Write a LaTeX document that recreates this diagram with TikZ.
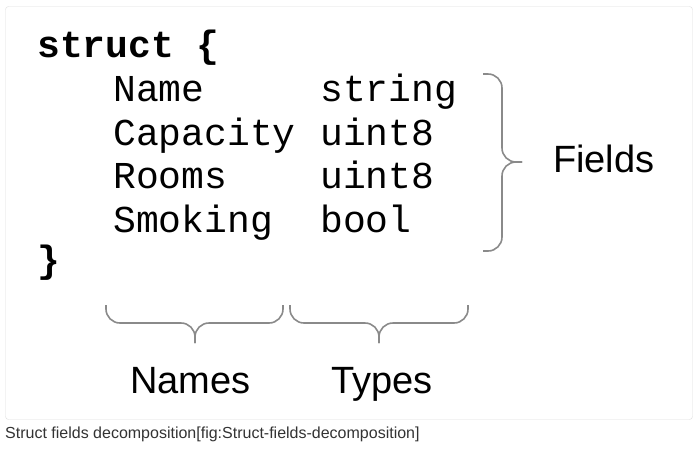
\documentclass[tikz,border=0pt]{standalone}
\usepackage{fontspec}
\setmainfont{Liberation Sans}
\setsansfont{Liberation Sans}
\setmonofont{Liberation Mono}
\usetikzlibrary{positioning}
\definecolor{frame}{HTML}{DCDCDC}
\definecolor{bracegray}{HTML}{8A8A8A}
\definecolor{ink}{HTML}{000000}
\definecolor{capink}{HTML}{333333}
\tikzset{fig/.style={x=1pt,y=-1pt,line join=round},
  code/.style={anchor=base west,inner sep=0pt,ink,font=\fontsize{38}{44}\ttfamily},
  codebf/.style={code,font=\fontsize{38}{44}\ttfamily\bfseries},
  lbl/.style={anchor=base west,inner sep=0pt,ink,font=\fontsize{38}{44}\sffamily},
  curly/.style={bracegray,line width=1.6pt,rounded corners=14pt}}

\begin{document}
\begin{tikzpicture}[fig]
  \useasboundingbox (0,0) rectangle (698,448);
  \draw[frame,rounded corners=3pt] (5.5,6.5) rectangle (692.5,419.5);
  % struct text
  \node[codebf] (open) at (37,57) {struct \{};
  \node[code] (nName) at (113,101) {Name};
  \node[code] (tName) at (320,101) {string};
  \node[code] (nCap) at (113,145) {Capacity};
  \node[code] (tCap) at (320,145) {uint8};
  \node[code] (nRooms) at (113,188) {Rooms};
  \node[code] (tRooms) at (320,188) {uint8};
  \node[code] (nSmoke) at (113,232) {Smoking};
  \node[code] (tSmoke) at (320,232) {bool};
  \node[codebf] (close) at (37,272) {\}};
  % braces
  \draw[curly] (483,74) -- (502,74) -- (502,162) -- (522,162);
  \draw[curly] (522,162) -- (502,162) -- (502,251) -- (483,251);
  \draw[curly] (106,305) -- (106,323) -- (195,323) -- (195,343);
  \draw[curly] (283,305) -- (283,323) -- (195,323) -- (195,343);
  \draw[curly] (290,305) -- (290,323) -- (379,323) -- (379,343);
  \draw[curly] (468,305) -- (468,323) -- (379,323) -- (379,343);
  % labels
  \node[lbl] (fields) at (553,172) {Fields};
  \node[lbl] (names) at (130,393) {Names};
  \node[lbl] (types) at (331,393) {Types};
  \node[anchor=base west,inner sep=0pt,capink,font=\fontsize{16}{19}\sffamily] (caption) at (5,438)
    {Struct fields decomposition[fig:Struct-fields-decomposition]};
\end{tikzpicture}
\end{document}
